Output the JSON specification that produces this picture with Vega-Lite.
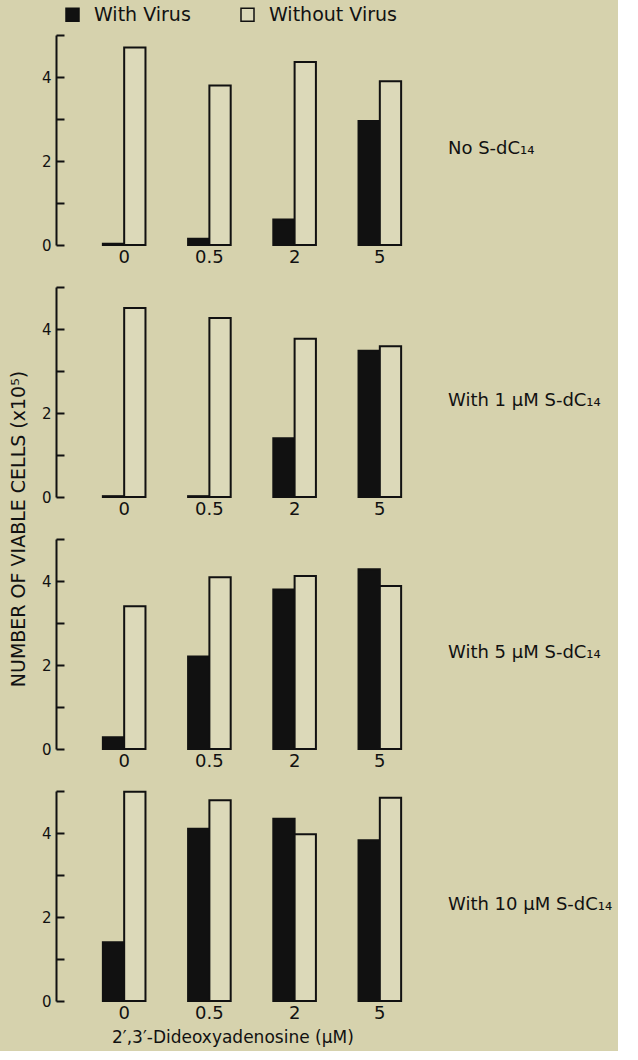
{
  "$schema": "https://vega.github.io/schema/vega-lite/v6.json",
  "background": "#d6d2ad",
  "padding": {"left": 9, "top": 5, "right": 5, "bottom": 5},
  "config": {
    "font": "DejaVu Sans",
    "view": {"stroke": null},
    "axis": {"labelColor": "#111", "grid": false}
  },
  "title": {
    "text": "2′,3′-Dideoxyadenosine (μM)",
    "orient": "bottom",
    "anchor": "start",
    "dx": 102,
    "fontSize": 17,
    "fontWeight": "normal",
    "color": "#111",
    "offset": 8
  },
  "data": {
    "values": [
      {"panel": "No S-dC₁₄", "dose": "0", "virus": "With Virus", "cells": 0.03},
      {"panel": "No S-dC₁₄", "dose": "0", "virus": "Without Virus", "cells": 4.7},
      {"panel": "No S-dC₁₄", "dose": "0.5", "virus": "With Virus", "cells": 0.15},
      {"panel": "No S-dC₁₄", "dose": "0.5", "virus": "Without Virus", "cells": 3.8},
      {"panel": "No S-dC₁₄", "dose": "2", "virus": "With Virus", "cells": 0.61},
      {"panel": "No S-dC₁₄", "dose": "2", "virus": "Without Virus", "cells": 4.36},
      {"panel": "No S-dC₁₄", "dose": "5", "virus": "With Virus", "cells": 2.95},
      {"panel": "No S-dC₁₄", "dose": "5", "virus": "Without Virus", "cells": 3.9},
      {"panel": "With 1 μM S-dC₁₄", "dose": "0", "virus": "With Virus", "cells": 0.02},
      {"panel": "With 1 μM S-dC₁₄", "dose": "0", "virus": "Without Virus", "cells": 4.5},
      {"panel": "With 1 μM S-dC₁₄", "dose": "0.5", "virus": "With Virus", "cells": 0.02},
      {"panel": "With 1 μM S-dC₁₄", "dose": "0.5", "virus": "Without Virus", "cells": 4.26},
      {"panel": "With 1 μM S-dC₁₄", "dose": "2", "virus": "With Virus", "cells": 1.4},
      {"panel": "With 1 μM S-dC₁₄", "dose": "2", "virus": "Without Virus", "cells": 3.77},
      {"panel": "With 1 μM S-dC₁₄", "dose": "5", "virus": "With Virus", "cells": 3.48},
      {"panel": "With 1 μM S-dC₁₄", "dose": "5", "virus": "Without Virus", "cells": 3.59},
      {"panel": "With 5 μM S-dC₁₄", "dose": "0", "virus": "With Virus", "cells": 0.28},
      {"panel": "With 5 μM S-dC₁₄", "dose": "0", "virus": "Without Virus", "cells": 3.4},
      {"panel": "With 5 μM S-dC₁₄", "dose": "0.5", "virus": "With Virus", "cells": 2.2},
      {"panel": "With 5 μM S-dC₁₄", "dose": "0.5", "virus": "Without Virus", "cells": 4.09},
      {"panel": "With 5 μM S-dC₁₄", "dose": "2", "virus": "With Virus", "cells": 3.8},
      {"panel": "With 5 μM S-dC₁₄", "dose": "2", "virus": "Without Virus", "cells": 4.12},
      {"panel": "With 5 μM S-dC₁₄", "dose": "5", "virus": "With Virus", "cells": 4.28},
      {"panel": "With 5 μM S-dC₁₄", "dose": "5", "virus": "Without Virus", "cells": 3.88},
      {"panel": "With 10 μM S-dC₁₄", "dose": "0", "virus": "With Virus", "cells": 1.4},
      {"panel": "With 10 μM S-dC₁₄", "dose": "0", "virus": "Without Virus", "cells": 4.98},
      {"panel": "With 10 μM S-dC₁₄", "dose": "0.5", "virus": "With Virus", "cells": 4.1},
      {"panel": "With 10 μM S-dC₁₄", "dose": "0.5", "virus": "Without Virus", "cells": 4.78},
      {"panel": "With 10 μM S-dC₁₄", "dose": "2", "virus": "With Virus", "cells": 4.34},
      {"panel": "With 10 μM S-dC₁₄", "dose": "2", "virus": "Without Virus", "cells": 3.97},
      {"panel": "With 10 μM S-dC₁₄", "dose": "5", "virus": "With Virus", "cells": 3.83},
      {"panel": "With 10 μM S-dC₁₄", "dose": "5", "virus": "Without Virus", "cells": 4.84}
    ]
  },
  "facet": {
    "row": {
      "field": "panel",
      "type": "nominal",
      "sort": ["No S-dC₁₄", "With 1 μM S-dC₁₄", "With 5 μM S-dC₁₄", "With 10 μM S-dC₁₄"],
      "header": {
        "title": "NUMBER OF VIABLE CELLS (x10⁵)",
        "titleOrient": "left",
        "titleFontSize": 19,
        "titleFontWeight": "normal",
        "titleColor": "#111",
        "titlePadding": 2,
        "labelOrient": "right",
        "labelAngle": 0,
        "labelBaseline": "top",
        "labelFontSize": 18,
        "labelColor": "#111",
        "labelPadding": 0
      }
    }
  },
  "spacing": 20,
  "resolve": {"axis": {"x": "independent"}},
  "spec": {
    "width": 392,
    "height": 210,
    "mark": {"type": "bar", "stroke": "#111", "strokeWidth": 2},
    "encoding": {
      "x": {
        "field": "dose",
        "type": "ordinal",
        "sort": ["0", "0.5", "2", "5"],
        "scale": {"paddingInner": 0.5, "paddingOuter": 0.55},
        "axis": {"title": null, "domain": false, "ticks": false, "labelAngle": 0, "labelPadding": 3, "labelFontSize": 18}
      },
      "xOffset": {"field": "virus", "type": "nominal", "sort": ["With Virus", "Without Virus"]},
      "y": {
        "field": "cells",
        "type": "quantitative",
        "scale": {"domain": [0, 5], "nice": false},
        "axis": {
          "title": null,
          "values": [0, 1, 2, 3, 4, 5],
          "labelExpr": "datum.value == 0 || datum.value == 2 || datum.value == 4 ? datum.label : ''",
          "labelFontSize": 15,
          "domainColor": "#111",
          "domainWidth": 2,
          "tickColor": "#111",
          "tickWidth": 2,
          "tickSize": -8,
          "labelPadding": 13
        }
      },
      "fill": {
        "field": "virus",
        "type": "nominal",
        "sort": ["With Virus", "Without Virus"],
        "scale": {"range": ["#111111", "#dcd9b9"]},
        "legend": {
          "title": null,
          "orient": "none",
          "legendX": 7,
          "legendY": -30,
          "direction": "horizontal",
          "symbolType": "square",
          "symbolSize": 169,
          "symbolStrokeColor": "#111",
          "symbolStrokeWidth": 1.5,
          "labelFontSize": 19,
          "labelColor": "#111",
          "labelOffset": 12,
          "columnPadding": 47
        }
      }
    }
  }
}
